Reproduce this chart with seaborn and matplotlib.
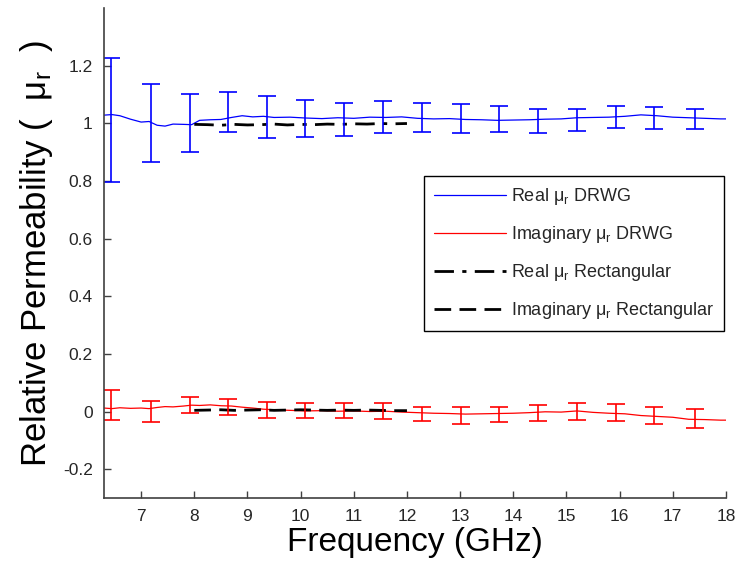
import matplotlib
matplotlib.use("Agg")
import matplotlib.pyplot as plt
import seaborn as sns
import pandas as pd

sns.set_theme(style="ticks")
plt.rcParams['font.family'] = ['Liberation Sans', 'DejaVu Sans']
plt.rcParams['mathtext.default'] = 'regular'

# ---- data ----
freq_drwg = [6.3, 6.45, 6.6, 6.8, 7.0, 7.15, 7.3, 7.45, 7.6, 7.8, 7.95, 8.1, 8.3, 8.5,
             8.7, 8.9, 9.1, 9.3, 9.5, 9.8, 10.1, 10.4, 10.7, 11.0, 11.3, 11.6, 11.9,
             12.2, 12.5, 12.8, 13.1, 13.4, 13.7, 14.0, 14.3, 14.6, 14.9, 15.2, 15.5,
             15.8, 16.1, 16.4, 16.7, 17.0, 17.3, 17.6, 17.9, 18.0]
real_drwg = [1.028, 1.030, 1.026, 1.014, 1.004, 1.006, 0.993, 0.990, 0.997, 0.996, 0.995,
             1.010, 1.012, 1.013, 1.020, 1.026, 1.022, 1.024, 1.020, 1.021, 1.018, 1.016,
             1.019, 1.017, 1.021, 1.020, 1.022, 1.017, 1.015, 1.016, 1.013, 1.012, 1.010,
             1.011, 1.012, 1.014, 1.015, 1.019, 1.020, 1.021, 1.024, 1.029, 1.026, 1.021,
             1.019, 1.017, 1.015, 1.015]
imag_drwg = [0.012, 0.010, 0.013, 0.011, 0.012, 0.010, 0.014, 0.017, 0.016, 0.019, 0.022,
             0.021, 0.023, 0.020, 0.019, 0.015, 0.012, 0.008, 0.006, 0.004, 0.002, 0.003,
             0.001, 0.002, 0.000, 0.001, -0.002, -0.004, -0.006, -0.007, -0.009, -0.008,
             -0.007, -0.006, -0.004, -0.001, -0.002, 0.002, -0.003, -0.006, -0.008, -0.014,
             -0.017, -0.020, -0.027, -0.028, -0.030, -0.030]

freq_rect = [8.0, 8.25, 8.5, 8.75, 9.0, 9.25, 9.5, 9.75, 10.0, 10.25, 10.5, 10.75,
             11.0, 11.25, 11.5, 11.75, 12.0]
real_rect = [0.996, 0.995, 0.993, 0.996, 0.994, 0.995, 0.997, 0.994, 0.996, 0.995,
             0.997, 0.996, 0.998, 0.997, 0.999, 0.998, 0.999]
imag_rect = [0.004, 0.005, 0.006, 0.004, 0.005, 0.006, 0.004, 0.005, 0.006, 0.005,
             0.004, 0.005, 0.004, 0.005, 0.004, 0.003, 0.003]

# error bars
err_freq = [6.44, 7.19, 7.92, 8.63, 9.36, 10.09, 10.82, 11.55, 12.28, 13.01, 13.74,
            14.47, 15.20, 15.93, 16.64, 17.41]
real_err_mid = [1.010, 1.000, 1.000, 1.039, 1.022, 1.015, 1.013, 1.021, 1.021, 1.015,
                1.015, 1.008, 1.011, 1.022, 1.018, 1.015]
real_err_half = [0.215, 0.135, 0.100, 0.068, 0.072, 0.064, 0.057, 0.056, 0.050, 0.050,
                 0.044, 0.043, 0.039, 0.037, 0.038, 0.035]
imag_err_mid = [0.022, 0.000, 0.023, 0.016, 0.006, 0.003, 0.004, 0.001, -0.008, -0.014,
                -0.010, -0.005, 0.000, -0.004, -0.015, -0.025]
imag_err_half = [0.052, 0.036, 0.029, 0.027, 0.028, 0.026, 0.025, 0.028, 0.025, 0.028,
                 0.027, 0.027, 0.029, 0.029, 0.029, 0.033]

labels = ["Real $\\mu_r$ DRWG", "Imaginary $\\mu_r$ DRWG",
          "Real $\\mu_r$ Rectangular", "Imaginary $\\mu_r$ Rectangular"]

fig = plt.figure(figsize=(7.37, 5.65), dpi=100)
ax = fig.add_axes([0.141, 0.1186, 0.844, 0.8674])

df_d = pd.DataFrame({"f": freq_drwg, "re": real_drwg, "im": imag_drwg})
df_r = pd.DataFrame({"f": freq_rect, "re": real_rect, "im": imag_rect})

sns.lineplot(data=df_d, x="f", y="re", ax=ax, color="#0000ff", lw=0.9, label=labels[0])
sns.lineplot(data=df_d, x="f", y="im", ax=ax, color="#ff0000", lw=0.9, label=labels[1])
sns.lineplot(data=df_r, x="f", y="re", ax=ax, color="black", lw=2.0,
             linestyle=(0, (7, 3, 1.5, 3)), label=labels[2])
sns.lineplot(data=df_r, x="f", y="im", ax=ax, color="black", lw=2.0,
             linestyle=(0, (6, 3)), label=labels[3])

ax.errorbar(err_freq, real_err_mid, yerr=real_err_half, fmt="none", ecolor="#0000ff",
            elinewidth=1.2, capsize=6.5, capthick=1.2)
ax.errorbar(err_freq, imag_err_mid, yerr=imag_err_half, fmt="none", ecolor="#ff0000",
            elinewidth=1.2, capsize=6.5, capthick=1.2)

ax.set_xlim(6.3, 18)
ax.set_ylim(-0.3, 1.4)
ax.set_xticks([7, 8, 9, 10, 11, 12, 13, 14, 15, 16, 17, 18])
ax.set_yticks([-0.2, 0, 0.2, 0.4, 0.6, 0.8, 1.0, 1.2])
ax.set_yticklabels(["-0.2", "0", "0.2", "0.4", "0.6", "0.8", "1", "1.2"])
ax.tick_params(direction="in", length=5, width=1, labelsize=12.5,
               colors="#404040", labelcolor="#262626", pad=8)
for side in ["top", "right"]:
    ax.spines[side].set_visible(False)
for side in ["left", "bottom"]:
    ax.spines[side].set_color("#404040")
    ax.spines[side].set_linewidth(1.2)

ax.set_xlabel("Frequency (GHz)", fontsize=24, color="black", labelpad=2)
ax.set_ylabel("Relative Permeability (  $\\mu_r$  )", fontsize=25, color="black", labelpad=6)

leg = ax.legend(loc="upper left", bbox_to_anchor=(0.514, 0.657), fontsize=13,
                frameon=True, fancybox=False, edgecolor="black", handlelength=4.0,
                labelspacing=0.95, handletextpad=0.3, borderpad=0.55, borderaxespad=0)
leg.get_frame().set_linewidth(1.0)
leg.get_frame().set_alpha(1)

fig.savefig("out.png", dpi=100)
